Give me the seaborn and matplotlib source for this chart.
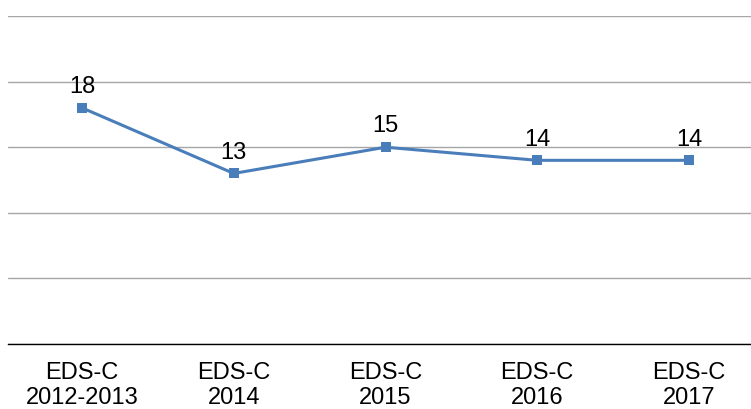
import pandas as pd
import matplotlib.pyplot as plt
import seaborn as sns

# Data
categories = ["EDS-C\n2012-2013", "EDS-C\n2014", "EDS-C\n2015", "EDS-C\n2016", "EDS-C\n2017"]
values = [18, 13, 15, 14, 14]

df = pd.DataFrame({"cat": categories, "val": values})

sns.set_style("white")
plt.rcParams['font.family'] = ['Liberation Sans', 'DejaVu Sans']

fig = plt.figure(figsize=(7.51, 4.09), dpi=100)
ax = fig.add_axes([8 / 751, 65 / 409, 743 / 751, 328 / 409])

line_color = "#4A7EBB"
sns.lineplot(data=df, x="cat", y="val", sort=False, color=line_color,
             linewidth=2.2, marker="s", markersize=6.5, markeredgewidth=0, ax=ax)

# data labels
for i, v in enumerate(values):
    ax.annotate(str(v), (i, v), xytext=(0, 7), textcoords="offset points",
                ha="center", va="bottom", fontsize=17, color="black")

ax.set_ylim(0, 25)
ax.set_xlim(-74 / 151.75, (751 - 82) / 151.75)
ax.set_yticks([0, 5, 10, 15, 20, 25])
ax.yaxis.grid(True, color="#A6A6A6", linewidth=1.0)
ax.set_axisbelow(True)
ax.tick_params(axis="y", left=False, labelleft=False)
ax.tick_params(axis="x", length=0, pad=13, labelsize=17, colors="black")
ax.set_xlabel("")
ax.set_ylabel("")

for s in ["top", "right", "left"]:
    ax.spines[s].set_visible(False)
ax.spines["bottom"].set_color("black")
ax.spines["bottom"].set_linewidth(1.0)

plt.savefig("out.png", dpi=100, facecolor="white")
